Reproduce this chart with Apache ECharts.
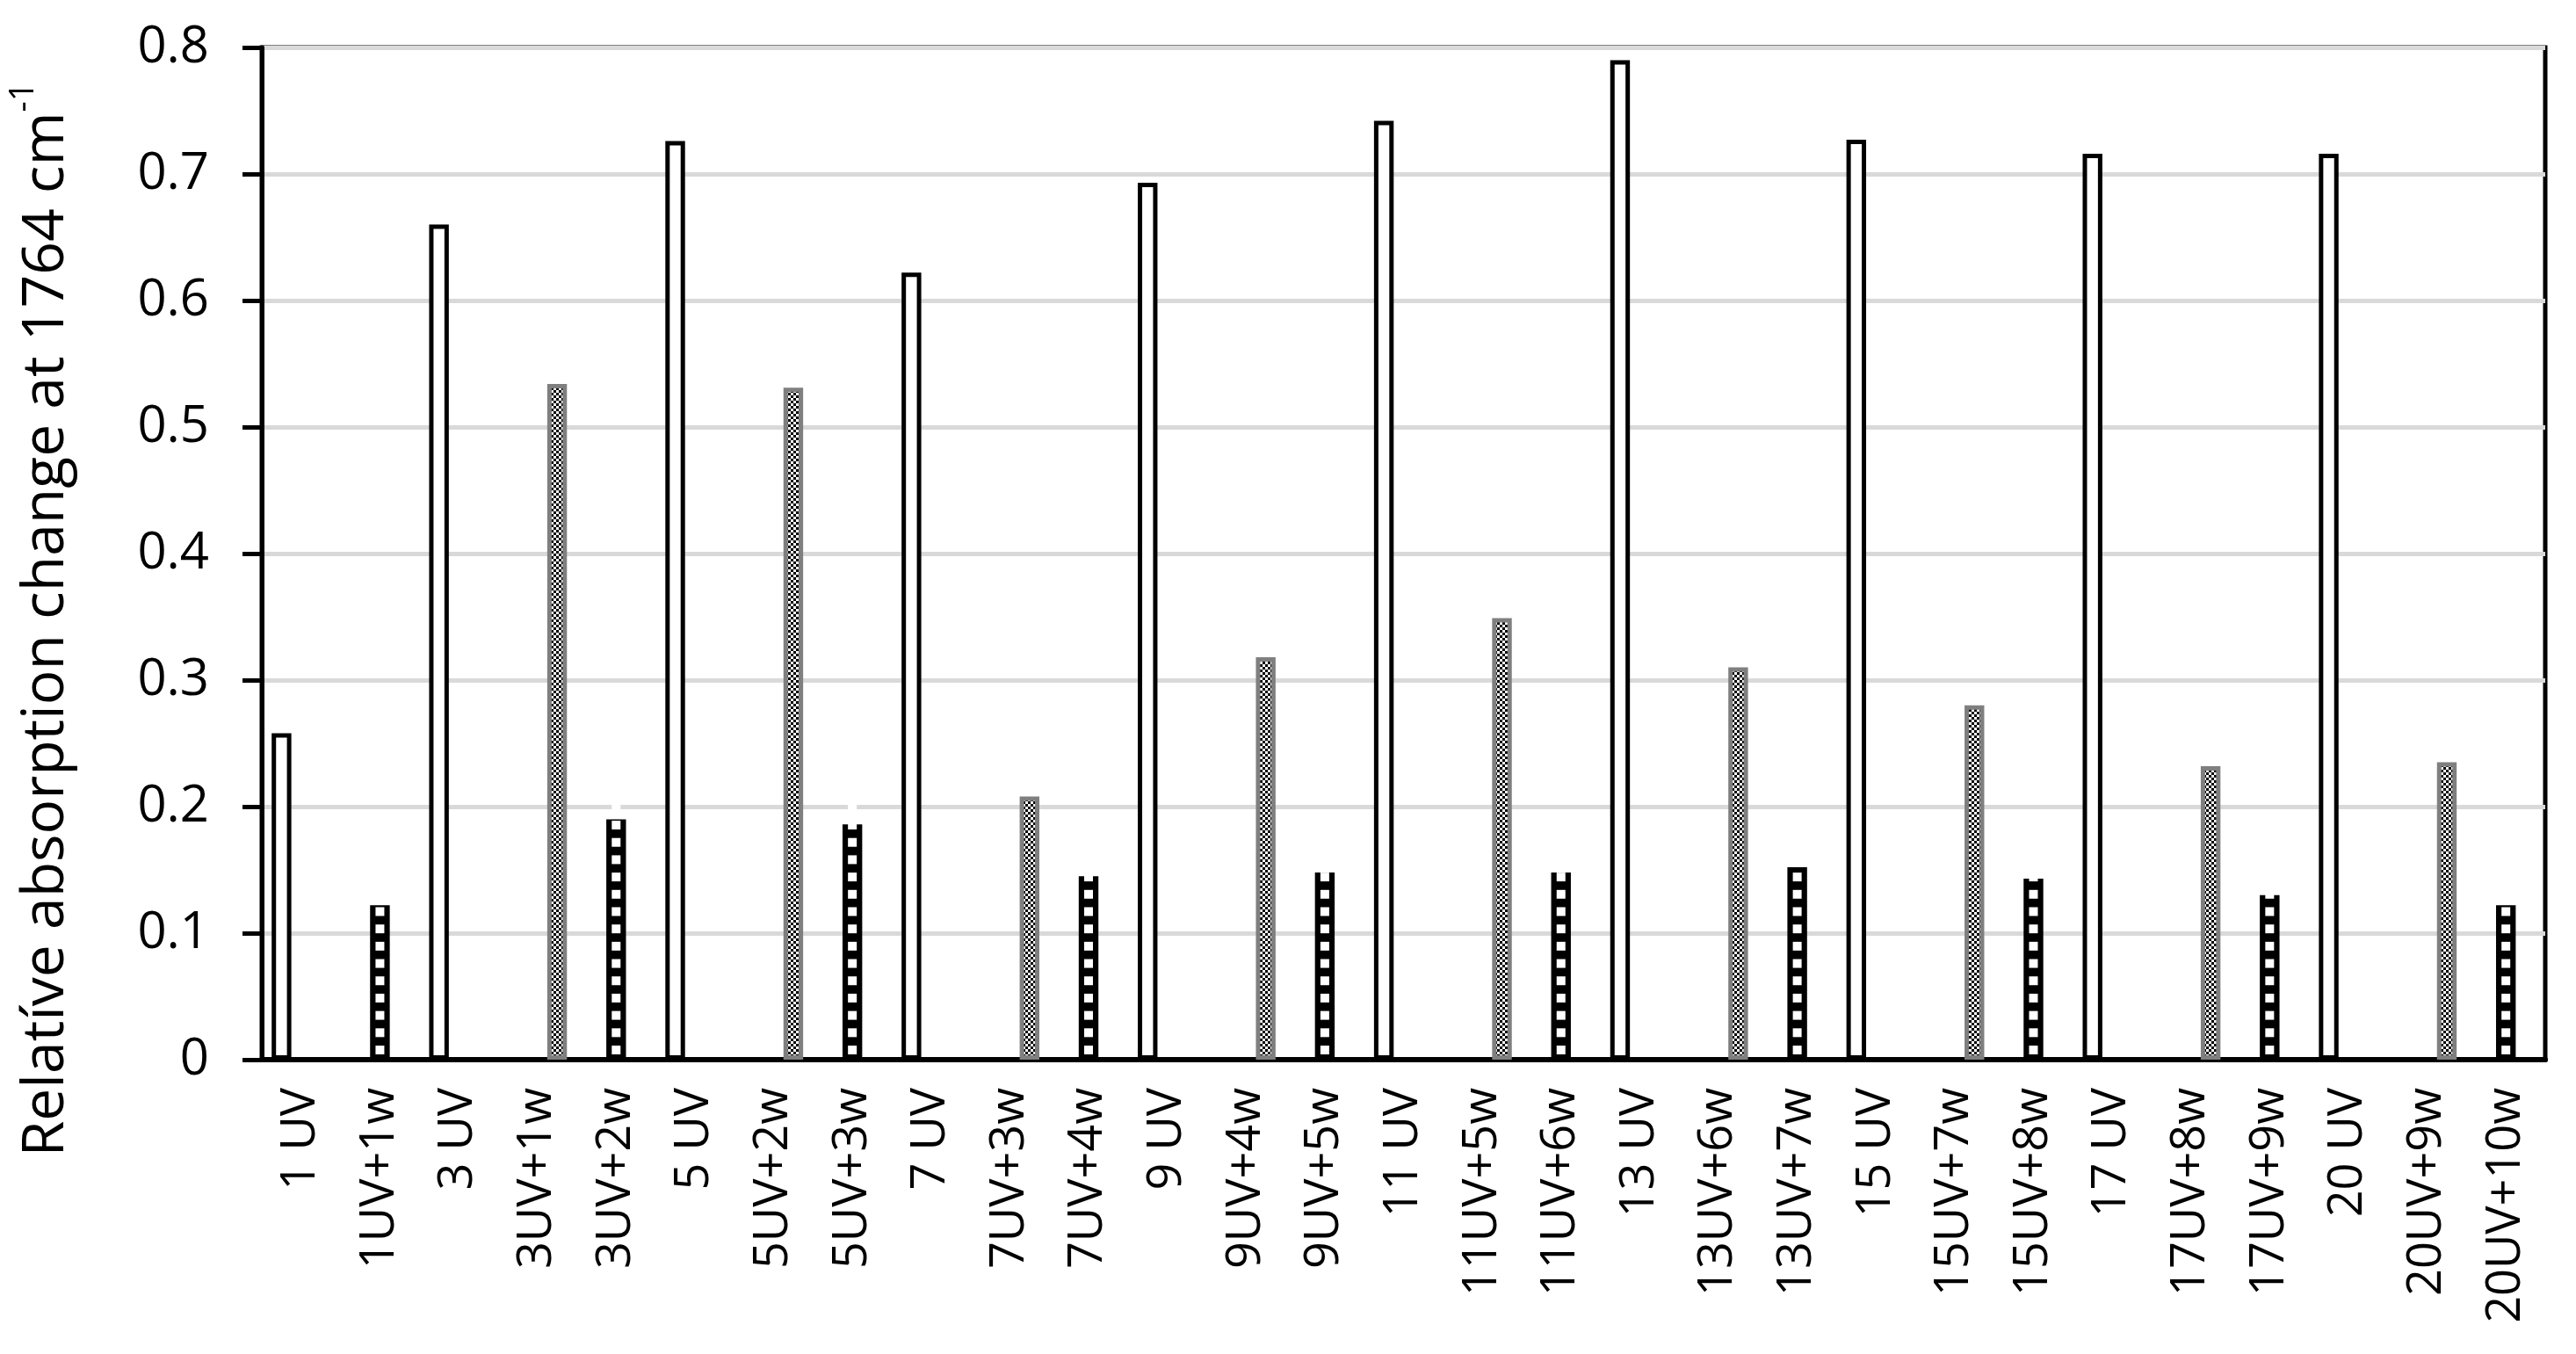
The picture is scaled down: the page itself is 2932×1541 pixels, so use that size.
<!DOCTYPE html>
<html>
<head>
<meta charset="utf-8">
<script src="https://cdn.jsdelivr.net/npm/echarts@6/dist/echarts.min.js"></script>
<style>
  html, body { margin: 0; padding: 0; background: #fff; }
  #absChart { width: 2932px; height: 1541px; }
</style>
</head>
<body>
<div id="absChart"></div>
<script>

// x 축 카테고리
let categories = [
    '1 UV', '1UV+1w',
    '3 UV', '3UV+1w', '3UV+2w',
    '5 UV', '5UV+2w', '5UV+3w',
    '7 UV', '7UV+3w', '7UV+4w',
    '9 UV', '9UV+4w', '9UV+5w',
    '11 UV', '11UV+5w', '11UV+6w',
    '13 UV', '13UV+6w', '13UV+7w',
    '15 UV', '15UV+7w', '15UV+8w',
    '17 UV', '17UV+8w', '17UV+9w',
    '20 UV', '20UV+9w', '20UV+10w'
];

// UV 만 (흰 막대)
let uvValues = [
    0.258, null,
    0.660, null, null,
    0.726, null, null,
    0.622, null, null,
    0.693, null, null,
    0.742, null, null,
    0.790, null, null,
    0.727, null, null,
    0.716, null, null,
    0.716, null, null
];

// UV + 물 (검은 막대, 가운데)
let washValues = [
    null, 0.122,
    null, null, 0.190,
    null, null, 0.186,
    null, null, 0.145,
    null, null, 0.148,
    null, null, 0.148,
    null, null, 0.152,
    null, null, 0.143,
    null, null, 0.130,
    null, null, 0.122
];

// UV + 물 (회색 막대, 오른쪽)
let uvWashValues = [
    null, null,
    null, 0.534, null,
    null, 0.531, null,
    null, 0.208, null,
    null, 0.318, null,
    null, 0.349, null,
    null, 0.310, null,
    null, 0.280, null,
    null, 0.232, null,
    null, 0.235, null
];

let yTicks = [0, 0.1, 0.2, 0.3, 0.4, 0.5, 0.6, 0.7, 0.8];

let fontName = '"Open Sans", "Noto Sans", "DejaVu Sans", sans-serif';

// 잔 체크 무늬 (회색 막대 안쪽)
function checkerPattern(cell) {
    var c = document.createElement('canvas');
    c.width = cell * 2;
    c.height = cell * 2;
    var ctx = c.getContext('2d');
    ctx.fillStyle = '#fff';
    ctx.fillRect(0, 0, c.width, c.height);
    ctx.fillStyle = '#000';
    ctx.fillRect(0, 0, cell, cell);
    ctx.fillRect(cell, cell, cell, cell);
    return c;
}

var absChart = echarts.init(document.getElementById('absChart'), null, { renderer: 'canvas' });

var option = {
    animation: false,
    backgroundColor: '#fff',
    grid: {
        left: 290,
        right: 35,
        top: 54,
        bottom: 335,
        show: true,
        borderColor: '#000',
        borderWidth: 5,
        backgroundColor: 'transparent'
    },
    xAxis: {
        type: 'category',
        data: categories,
        axisLine: { lineStyle: { color: '#000', width: 6 } },
        axisTick: { show: false },
        axisLabel: {
            rotate: 90,
            interval: 0,
            margin: 32,
            color: '#000',
            fontSize: 54,
            fontFamily: fontName
        }
    },
    yAxis: {
        type: 'value',
        min: yTicks[0],
        max: yTicks[yTicks.length - 1],
        interval: 0.1,
        name: '{t|Relatíve absorption change at 1764 cm}{s|-1}',
        nameLocation: 'middle',
        nameRotate: 90,
        nameGap: 212,
        nameTextStyle: {
            // 제목을 조금 아래로
            padding: [0, 150, 0, 0],
            rich: {
                t: { fontSize: 66, color: '#000', fontFamily: fontName, lineHeight: 78, verticalAlign: 'bottom' },
                s: { fontSize: 38, color: '#000', fontFamily: fontName, lineHeight: 78, verticalAlign: 'top' }
            }
        },
        axisLine: { show: true, lineStyle: { color: '#000', width: 5 } },
        axisTick: { show: true, length: 22, lineStyle: { color: '#000', width: 5 } },
        splitLine: { lineStyle: { color: '#d9d9d9', width: 5 } },
        axisLabel: {
            margin: 60,
            color: '#000',
            fontSize: 58,
            fontFamily: fontName,
            formatter: function (v) {
                // 0 은 그대로, 나머지는 소수 한 자리
                return v === 0 ? '0' : v.toFixed(1);
            }
        }
    },
    series: [
        {
            name: 'UV',
            type: 'bar',
            data: uvValues,
            barGap: '0%',
            barCategoryGap: '25%',
            itemStyle: { color: '#fff', borderColor: '#000', borderWidth: 5 }
        },
        {
            name: 'UV+w',
            type: 'bar',
            data: washValues,
            itemStyle: { color: '#000', borderColor: '#000', borderWidth: 5 }
        },
        {
            name: 'UV+w grey',
            type: 'bar',
            data: uvWashValues,
            itemStyle: {
                color: { image: checkerPattern(3), repeat: 'repeat' },
                borderColor: '#7f7f7f',
                borderWidth: 5
            }
        },
        {
            // 검은 막대 위의 흰 네모 무늬
            name: 'holes',
            type: 'pictorialBar',
            data: washValues,
            symbol: 'rect',
            symbolSize: [10, 10],
            symbolRepeat: true,
            symbolMargin: 5,
            symbolOffset: [0, -6],
            z: 5,
            itemStyle: { color: '#fff' }
        }
    ]
};

absChart.setOption(option);
</script>
</body>
</html>
